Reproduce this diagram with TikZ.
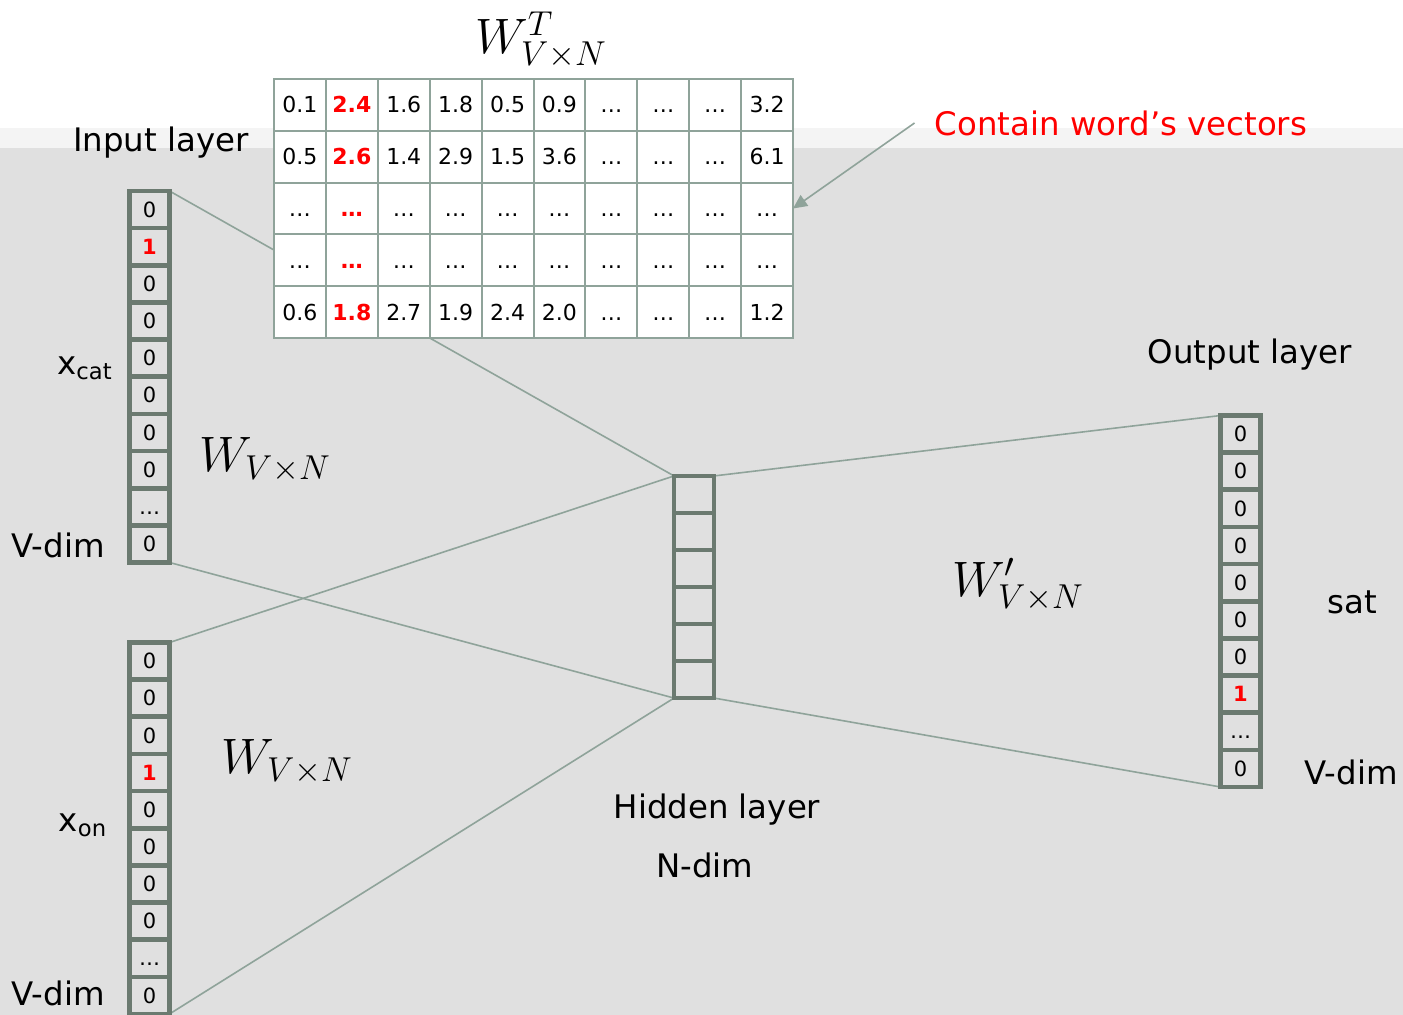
\documentclass[tikz,border=0pt]{standalone}
\usepackage{fontspec}
\setmainfont{DejaVu Sans}
\usetikzlibrary{arrows.meta, positioning}

\definecolor{wire}{HTML}{8FA39A}
\definecolor{vecline}{HTML}{6B7A70}
\definecolor{panel}{HTML}{E0E0E0}
\definecolor{band}{HTML}{F4F4F4}
\definecolor{hotred}{HTML}{FF0000}

\pgfdeclarelayer{back}
\pgfdeclarelayer{wires}
\pgfsetlayers{back,wires,main}

\begin{document}
\begin{tikzpicture}[
		x=0.5pt, y=-0.5pt,
		lbl/.style={
			font=\fontsize{16.2}{19}\selectfont,
			inner sep=0pt
		},
		wmath/.style={
			font=\fontsize{27}{30}\selectfont,
			inner sep=0pt
		},
		vcell/.style={
			draw=vecline,
			line width=2.3pt,
			fill=panel,
			minimum width=20pt,
			minimum height=18.55pt,
			inner sep=0pt,
			outer sep=0pt,
			font=\fontsize{10.5}{12}\selectfont
		},
		mcell/.style={
			draw=wire,
			line width=1pt,
			fill=white,
			minimum width=25.95pt,
			minimum height=25.9pt,
			inner sep=0pt,
			outer sep=0pt,
			font=\fontsize{11}{13}\selectfont
		},
		link/.style={draw=wire, line width=0.8pt},
		arrow/.style={link, -{Triangle[length=7pt, width=6.5pt]}}
	]
	
	% Fond
	\begin{pgfonlayer}{back}
		\fill[white] (0,0) rectangle (1403,1015);
		\fill[band] (0,128) rectangle (1403,148);
		\fill[panel] (0,148) rectangle (1403,1015);
	\end{pgfonlayer}
	\useasboundingbox (0,0) rectangle (1403,1015);
	
	% Vecteurs one-hot
	\foreach \nm/\xx/\top/\hi in {in1/149.5/191/2, in2/149.5/642.5/4, out/1240.5/415.5/8}
	\foreach \v [count=\i] in {0,1,0,0,0,0,0,0,\ldots,0} {
		\ifnum\i=\hi \def\v{1}\else\ifnum\i=2 \def\v{0}\fi\fi
		\node[vcell] (\nm-\i) at (\xx, {\top+(\i-0.5)*37.15})
		{\vphantom{0}\ifnum\i=\hi \color{hotred}\bfseries\fi\v};
	}
	
	% Couche cachée
	\foreach \i in {1,...,6}
	\node[vcell] (hid-\i) at (694, {476+(\i-0.5)*37}) {};
	
	% Matrice
	\foreach \row [count=\r] in {
		{0.1,2.4,1.6,1.8,0.5,0.9,\ldots,\ldots,\ldots,3.2},
		{0.5,2.6,1.4,2.9,1.5,3.6,\ldots,\ldots,\ldots,6.1},
		{\ldots,\ldots,\ldots,\ldots,\ldots,\ldots,\ldots,\ldots,\ldots,\ldots},
		{\ldots,\ldots,\ldots,\ldots,\ldots,\ldots,\ldots,\ldots,\ldots,\ldots},
		{0.6,1.8,2.7,1.9,2.4,2.0,\ldots,\ldots,\ldots,1.2}}
	\foreach \val [count=\c] in \row
	\node[mcell] (m-\r-\c) at ({274+(\c-0.5)*51.9}, {79+(\r-0.5)*51.8})
	{\vphantom{0}\ifnum\c=2 \color{hotred}\bfseries\fi\val};
	
	% Liaisons
	\begin{pgfonlayer}{wires}
		\draw[link] (in1-1.north east) -- (hid-1.north west);
		\draw[link] (in1-10.south east) -- (hid-6.south west);
		\draw[link] (in2-1.north east) -- (hid-1.north west);
		\draw[link] (in2-10.south east) -- (hid-6.south west);
		\draw[link] (hid-1.north east) -- (out-1.north west);
		\draw[link] (hid-6.south east) -- (out-10.south west);
	\end{pgfonlayer}
	
	% Textes
	\node[wmath] (wt) at (541,40) {$W^{T}_{V\times N}$};
	\node[lbl] (inlbl) at (161,143) {Input layer};
	\node[lbl] (xcat) at (85,368) {x\textsubscript{cat}};
	\node[lbl] (vdim1) at (58,545) {V-dim};
	\node[wmath] (w1) at (265,460) {$W_{V\times N}$};
	\node[lbl] (xon) at (83,825) {x\textsubscript{on}};
	\node[lbl] (vdim2) at (58,993) {V-dim};
	\node[wmath] (w2) at (287,762) {$W_{V\times N}$};
	\node[lbl] (hidlbl) at (717,810) {Hidden layer};
	\node[lbl] (ndim) at (705,865) {N-dim};
	\node[lbl] (outlbl) at (1250,355) {Output layer};
	\node[wmath] (w3) at (1018,585) {$W'_{V\times N}$};
	\node[lbl] (sat) at (1352,602) {sat};
	\node[lbl] (vdim3) at (1351,772) {V-dim};
	\node[lbl, text=hotred, inner xsep=10pt] (note) at (1121,123) {Contain word’s vectors};
	
	% Flèche
	\draw[arrow] (note.west) -- (m-3-10.east);
	
\end{tikzpicture}
\end{document}
